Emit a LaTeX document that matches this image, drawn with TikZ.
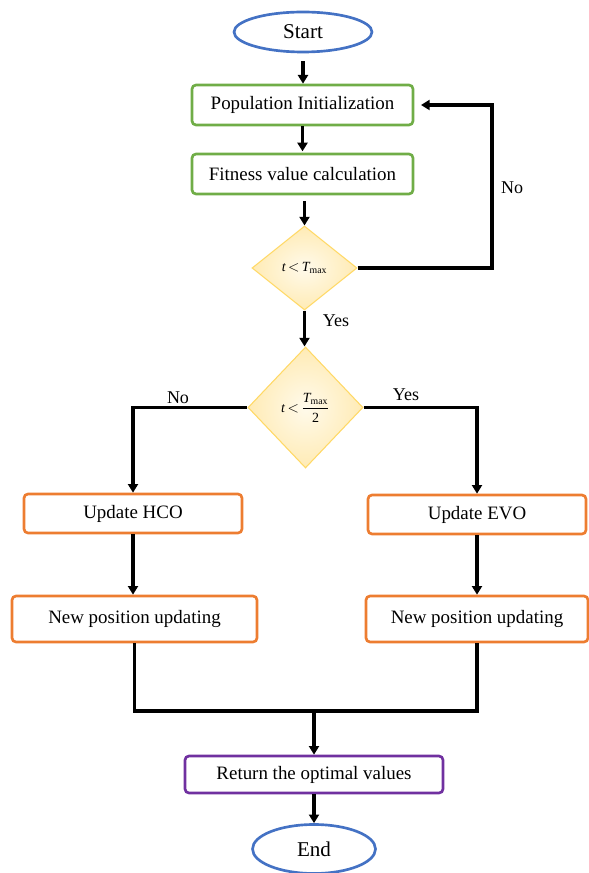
\documentclass[tikz,border=0pt]{standalone}
\usepackage{fontspec}
\setmainfont{Liberation Serif}
\usetikzlibrary{shapes.geometric,arrows.meta}
\definecolor{cblue}{HTML}{4472C4}
\definecolor{cgreen}{HTML}{70AD47}
\definecolor{corange}{HTML}{ED7D31}
\definecolor{cpurple}{HTML}{7030A0}
\definecolor{dinner}{HTML}{FFFAEB}
\definecolor{douter}{HTML}{FFEBB5}
\definecolor{dborder}{HTML}{FFD966}
\tikzset{
  base/.style={font=\fontsize{14.2}{17}\selectfont, inner sep=0pt, line width=2pt},
  term/.style={base, ellipse, draw=cblue, font=\fontsize{15.8}{19}\selectfont},
  gbox/.style={base, rectangle, rounded corners=3pt, draw=cgreen},
  obox/.style={base, rectangle, rounded corners=3pt, draw=corange},
  pbox/.style={base, rectangle, rounded corners=3pt, draw=cpurple},
  dec/.style={diamond, inner sep=0pt, draw=dborder, line width=0.8pt, shading=radial, inner color=dinner, outer color=douter, font=\fontsize{10.5}{12}\selectfont},
  conn/.style={line width=2.3pt, draw=black},
  arr/.style={conn, -{Triangle[width=7.5pt,length=6.5pt]}},
  lbl/.style={font=\fontsize{13.5}{16}\selectfont, inner sep=0pt}
}
\begin{document}
\begin{tikzpicture}[x=0.75pt,y=-0.75pt]
\useasboundingbox (0,0) rectangle (588,873);
\node[term, minimum width=103.5pt, minimum height=30pt] (start) at (303,32) {Start};
\node[gbox, minimum width=165.75pt, minimum height=30pt] (pop) at (302.5,105) {Population Initialization};
\node[gbox, minimum width=165.75pt, minimum height=30pt] (fit) at (302.5,174) {Fitness value calculation};
\node[dec, minimum width=78.75pt, minimum height=63pt] (d1) at (304.5,268) {$\mathit{t}\mkern-2mu<\mkern-2mu\mathit{T}_{\mathrm{max}}$};
\node[dec, minimum width=86.25pt, minimum height=90.75pt] (d2) at (305.5,407.5) {$\mathit{t}\mkern-2mu<\mkern-2mu\displaystyle\frac{\mathit{T}_{\mathrm{max}}}{\mathrm{2}}$};
\node[obox, minimum width=163.5pt, minimum height=29.25pt] (hco) at (133,513.5) {Update HCO};
\node[obox, minimum width=183.75pt, minimum height=34.5pt] (npl) at (134.5,619) {New position updating};
\node[obox, minimum width=163.5pt, minimum height=29.25pt] (evo) at (477,514.5) {Update EVO};
\node[obox, minimum width=166.5pt, minimum height=34.5pt] (npr) at (477,619) {New position updating};
\node[pbox, minimum width=193.5pt, minimum height=27.75pt] (ret) at (314,774.5) {Return the optimal values};
\node[term, minimum width=92.25pt, minimum height=36.75pt] (end) at (314,849) {End};

\coordinate (lp) at (492,268);
\coordinate (jm) at (314,711);

\draw[arr, shorten <=6pt] (start) -- (start.south|-pop.north);
\draw[arr, shorten >=1pt] (pop) -- (fit);
\draw[arr, shorten <=4.5pt] (d1.north|-fit.south) -- (d1.north);
\draw[arr, shorten >=5pt] (d1.east) -- (lp) |- (pop.east);
\draw[arr] (d1.south) -- (d1.south|-d2.north);
\draw[arr] (d2.west) -| (hco.north);
\draw[arr] (d2.east) -| (evo.north);
\draw[arr] (hco.south) -- (hco.south|-npl.north);
\draw[arr] (evo.south) -- (evo.south|-npr.north);
\draw[conn] (npl.south) |- (jm) -| (npr.south);
\draw[arr] (jm) -- (jm|-ret.north);
\draw[arr] (ret.south) -- (end.north);

\node[lbl] (lno1) at (512,188) {No};
\node[lbl] (lyes1) at (336,321) {Yes};
\node[lbl] (lno2) at (178,398) {No};
\node[lbl] (lyes2) at (406,395) {Yes};
\end{tikzpicture}
\end{document}
